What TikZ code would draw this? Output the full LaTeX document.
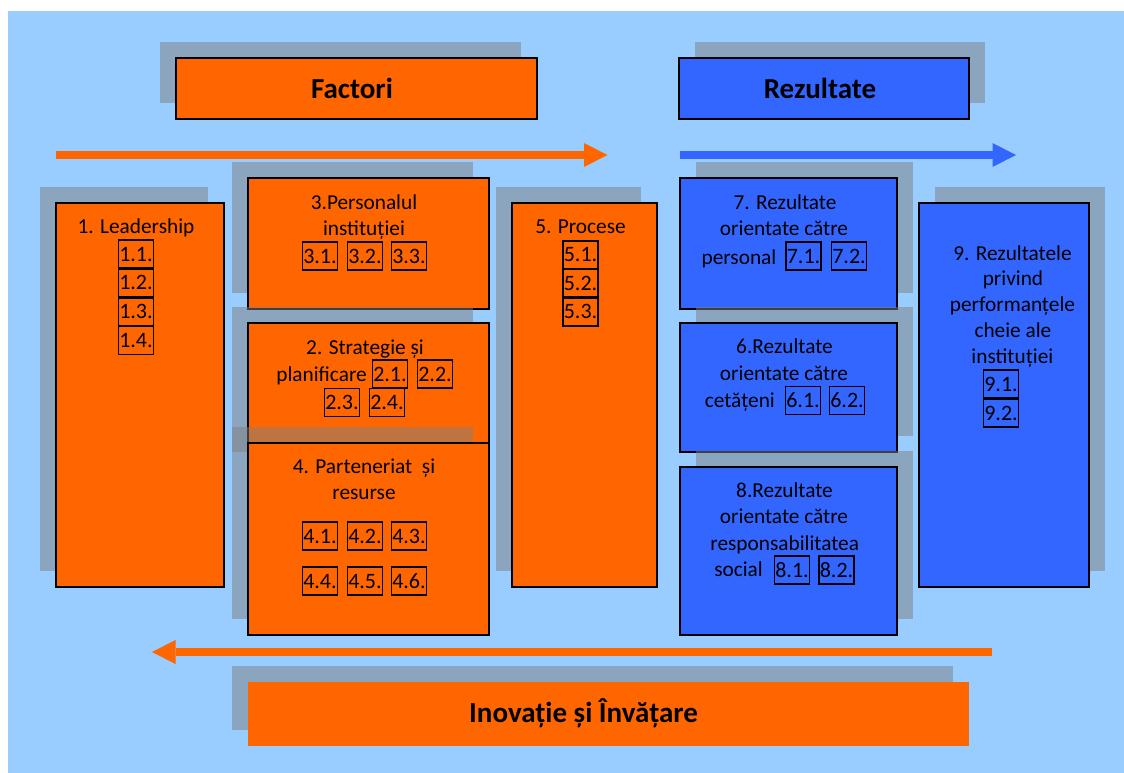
\documentclass[tikz,border=0pt]{standalone}
\usepackage{fontspec}
\setmainfont{Carlito}
\usetikzlibrary{arrows.meta}
\definecolor{skyback}{HTML}{99CCFF}
\definecolor{factorfill}{HTML}{FF6600}
\definecolor{resultfill}{HTML}{3366FF}
\tikzset{
  dropshadow/.style={fill=black!50, fill opacity=0.5},
  panel/.style={draw=black, line width=1.9pt, inner sep=0pt, outer sep=0pt, anchor=north west},
  panelO/.style={panel, fill=factorfill},
  panelB/.style={panel, fill=resultfill},
  lbl/.style={font=\fontsize{21.3}{26}\selectfont, inner sep=0pt, anchor=base},
  code/.style={draw=black, line width=1.8pt, font=\fontsize{22}{26}\selectfont, inner sep=0pt,
    minimum width=35pt, minimum height=28pt, text height=14pt, text depth=0pt},
  ttl/.style={font=\fontsize{29}{35}\bfseries\selectfont, inner sep=0pt, anchor=base},
  flow/.style={line width=8pt, -{Triangle[length=23.5pt,width=24pt,line width=0pt]}}
}
\begin{document}
\begin{tikzpicture}[x=1pt,y=-1pt]
\useasboundingbox (0,0) rectangle (1124,773);
\fill[skyback] (8,11) rectangle (1124,773);

% header boxes
\fill[dropshadow] (160,42) rectangle (521,103);
\node[panelO, minimum width=361pt, minimum height=61pt] (factori) at (176,58) {};
\node[ttl] (factoriT) at (352,99) {Factori};
\fill[dropshadow] (695,42) rectangle (985,103);
\node[panelB, minimum width=290pt, minimum height=61pt] (rezultate) at (679,58) {};
\node[ttl] (rezultateT) at (820,99) {Rezultate};

% flow arrows
\coordinate (fa) at (56,155);
\coordinate (fb) at (607.5,155);
\draw[flow, factorfill] (fa) -- (fb);
\coordinate (ra) at (680,155);
\coordinate (rb) at (1016,155);
\draw[flow, resultfill] (ra) -- (rb);

% 1. Leadership
\fill[dropshadow] (40,187) rectangle (208,571);
\node[panelO, minimum width=168pt, minimum height=384pt] (b1) at (56,203) {};
\node[lbl] (b1t) at (136,233) {1. Leadership};
\node[code] (c11) at (136,254) {1.1.};
\node[code] (c12) at (136,282.8) {1.2.};
\node[code] (c13) at (136,311.6) {1.3.};
\node[code] (c14) at (136,340.4) {1.4.};

% 3. Personalul
\fill[dropshadow] (232,162) rectangle (473,293);
\node[panelO, minimum width=241pt, minimum height=131pt] (b3) at (248,178) {};
\node[lbl] (b3t1) at (364,209) {3.Personalul};
\node[lbl] (b3t2) at (364,235) {instituției};
\node[code] (c31) at (320,256) {3.1.};
\node[code] (c32) at (365,256) {3.2.};
\node[code] (c33) at (409,256) {3.3.};

% 2. Strategie
\fill[dropshadow] (232,307) rectangle (473,452);
\node[panelO, minimum width=241pt, minimum height=145pt] (b2) at (248,323) {};
\node[lbl] (b2t1) at (365,354) {2. Strategie și};
\node[lbl, anchor=base east] (b2t2) at (367,381) {planificare};
\node[code] (c21) at (390,374) {2.1.};
\node[code] (c22) at (435,374) {2.2.};
\node[code] (c23) at (342,402.5) {2.3.};
\node[code] (c24) at (387,402.5) {2.4.};

% 4. Parteneriat
\fill[dropshadow] (232,427) rectangle (473,619);
\node[panelO, minimum width=241pt, minimum height=192pt] (b4) at (248,443) {};
\node[lbl] (b4t1) at (364,473) {4. Parteneriat\ \ și};
\node[lbl] (b4t2) at (364,499) {resurse};
\node[code] (c41) at (320,536) {4.1.};
\node[code] (c42) at (365,536) {4.2.};
\node[code] (c43) at (409,536) {4.3.};
\node[code] (c44) at (320,581) {4.4.};
\node[code] (c45) at (365,581) {4.5.};
\node[code] (c46) at (409,581) {4.6.};

% 5. Procese
\fill[dropshadow] (496,187) rectangle (641,571);
\node[panelO, minimum width=145pt, minimum height=384pt] (b5) at (512,203) {};
\node[lbl] (b5t) at (580.5,233) {5. Procese};
\node[code] (c51) at (580.5,254.6) {5.1.};
\node[code] (c52) at (580.5,283.2) {5.2.};
\node[code] (c53) at (580.5,311.6) {5.3.};

% 7. Rezultate personal
\fill[dropshadow] (696,162) rectangle (913,293);
\node[panelB, minimum width=217pt, minimum height=131pt] (b7) at (680,178) {};
\node[lbl] (b7t1) at (785,209) {7. Rezultate};
\node[lbl] (b7t2) at (784,235) {orientate către};
\node[lbl, anchor=base east] (b7t3) at (776.5,264) {personal};
\node[code] (c71) at (803.5,256) {7.1.};
\node[code] (c72) at (849,256) {7.2.};

% 6. Rezultate cetateni
\fill[dropshadow] (696,307) rectangle (913,436);
\node[panelB, minimum width=217pt, minimum height=129pt] (b6) at (680,323) {};
\node[lbl] (b6t1) at (784.5,353) {6.Rezultate};
\node[lbl] (b6t2) at (784,380) {orientate către};
\node[lbl, anchor=base east] (b6t3) at (775,407) {cetățeni};
\node[code] (c61) at (803,400.5) {6.1.};
\node[code] (c62) at (847,400.5) {6.2.};

% 8. Rezultate societate
\fill[dropshadow] (696,451) rectangle (913,619);
\node[panelB, minimum width=217pt, minimum height=168pt] (b8) at (680,467) {};
\node[lbl] (b8t1) at (784.5,497) {8.Rezultate};
\node[lbl] (b8t2) at (784,523) {orientate către};
\node[lbl] (b8t3) at (784.7,550) {responsabilitatea};
\node[lbl, anchor=base east] (b8t4) at (763,576) {social};
\node[code] (c81) at (792,570) {8.1.};
\node[code] (c82) at (836.5,570) {8.2.};

% 9. Rezultate cheie
\fill[dropshadow] (935,187) rectangle (1105,571);
\node[panelB, minimum width=170pt, minimum height=384pt] (b9) at (919,203) {};
\node[lbl] (b9t1) at (1012.5,260) {9. Rezultatele};
\node[lbl] (b9t2) at (1013,285.7) {privind};
\node[lbl] (b9t3) at (1012.4,311.7) {performanțele};
\node[lbl] (b9t4) at (1012.9,337.7) {cheie ale};
\node[lbl] (b9t5) at (1012.4,363) {instituției};
\node[code] (c91) at (1001,384.3) {9.1.};
\node[code] (c92) at (1001,413) {9.2.};

% feedback arrow
\coordinate (ia) at (992,652);
\coordinate (ib) at (152,652);
\draw[flow, factorfill] (ia) -- (ib);

% footer box
\fill[dropshadow] (232,666) rectangle (953,730);
\node[panelO, draw=none, minimum width=721pt, minimum height=64pt] (inov) at (248,682) {};
\node[ttl] (inovT) at (583.5,722) {Inovație și Învățare};
\end{tikzpicture}
\end{document}
